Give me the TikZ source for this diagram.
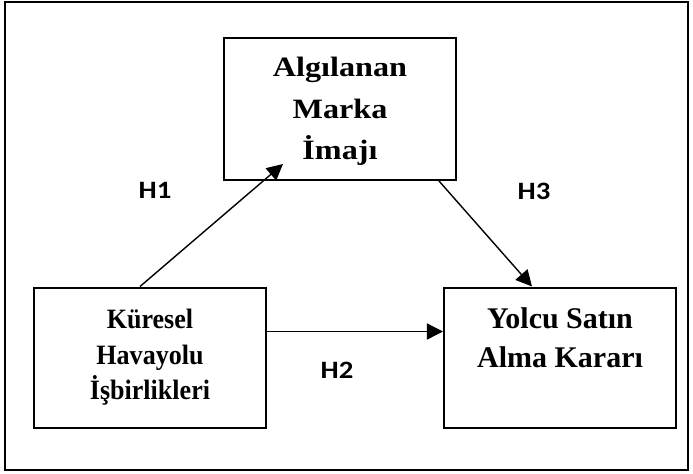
\documentclass[tikz,border=0pt]{standalone}
\usepackage{fontspec}
\setmainfont{Liberation Serif}
\newfontfamily\widefont{Liberation Serif}[FakeStretch=1.15]
\newfontfamily\narrowfont{Liberation Serif}[FakeStretch=0.93]
\newfontfamily\hypfont{Carlito}[FakeStretch=1.15]
\usepackage{tikz}
\usetikzlibrary{positioning, arrows.meta}
\tikzstyle{construct} = [rectangle, minimum width=116pt, minimum height=70pt, text centered, align=center, draw=black, line width=1pt]
\tikzstyle{arrow} = [line width=0.7pt, -{Triangle[length=8pt, width=8pt]}]
\tikzstyle{hyp} = [font=\hypfont\bfseries\fontsize{12.5}{15}\selectfont]

\begin{document}
\begin{tikzpicture}[x=0.5pt, y=-0.5pt]
        \useasboundingbox (0,0) rectangle (693,473);
        \draw [line width=0.75pt] (5,2) rectangle (688,470);

        \node (kuresel) [construct, font=\narrowfont\bfseries\fontsize{14}{17.8}\selectfont] at (150,357.5) {Küresel\\Havayolu\\İşbirlikleri};
        \node (yolcu) [construct, right of=kuresel, node distance=205pt, font=\bfseries\fontsize{15}{19.5}\selectfont] {Yolcu Satın\\Alma Kararı\\~};
        \node (algilanan) [construct, minimum height=71pt, font=\widefont\bfseries\fontsize{14}{20.6}\selectfont] at (340,109) {\rule{0pt}{12pt}Algılanan\\Marka\\İmajı};

        \node (h1) [hyp] at (155,190) {H1};
        \node (h3) [hyp] at (534,191) {H3};
        \node (h2) [hyp] at (337,370) {H2};

        \draw [arrow] ([xshift=-5pt]kuresel.north) -- ([xshift=-28.5pt, yshift=8.5pt]algilanan.south);
        \draw [arrow] ([yshift=13pt]kuresel.east) -- ([yshift=13pt]yolcu.west);
        \draw [arrow] ([xshift=49.5pt]algilanan.south) -- ([xshift=-14pt]yolcu.north);

\end{tikzpicture}
\end{document}
